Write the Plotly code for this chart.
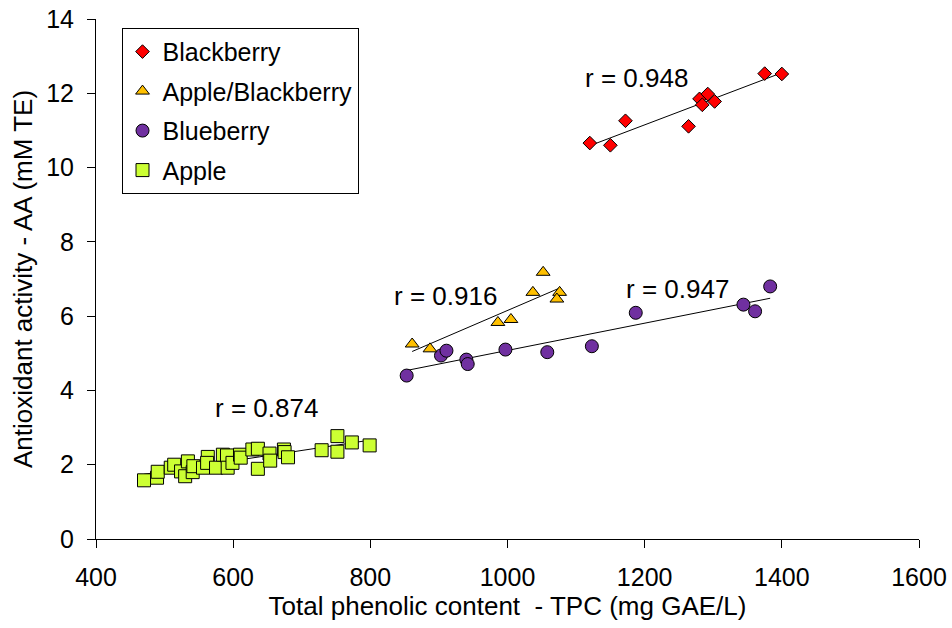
import numpy as np
import plotly.graph_objects as go

# Total phenolic content (mg GAE/L) and antioxidant activity (mM TE) per sample
blackberry_tpc = [1120, 1150, 1172, 1264, 1280, 1292, 1302, 1284, 1375, 1400]
blackberry_aa = [10.66, 10.60, 11.26, 11.11, 11.85, 11.98, 11.78, 11.69, 12.53, 12.52]

apple_blackberry_tpc = [861, 887, 986, 1005, 1037, 1052, 1076, 1072]
apple_blackberry_aa = [5.25, 5.12, 5.83, 5.91, 6.64, 7.18, 6.64, 6.46]

blueberry_tpc = [853, 903, 911, 940, 942, 997, 1058, 1123, 1187, 1344, 1361, 1383]
blueberry_aa = [4.40, 4.94, 5.07, 4.83, 4.71, 5.10, 5.03, 5.19, 6.09, 6.31, 6.13, 6.80]

apple_tpc = [470, 489, 490, 509, 514, 524, 530, 534, 541, 542, 556, 563, 562,
             575, 585, 591, 592, 599, 610, 611, 628, 636, 636, 653, 654, 674,
             675, 680, 729, 752, 752, 773, 799]
apple_aa = [1.58, 1.65, 1.81, 1.92, 2.00, 1.82, 1.69, 2.09, 1.80, 1.96, 1.92,
            2.21, 2.05, 1.92, 2.27, 2.25, 1.92, 2.05, 2.27, 2.19, 2.41, 2.43,
            1.89, 2.30, 2.11, 2.41, 2.34, 2.20, 2.39, 2.77, 2.35, 2.60, 2.52]

# Correlation labels and where they sit (data coordinates)
r_labels = ["r = 0.948", "r = 0.916", "r = 0.947", "r = 0.874"]
r_label_x = [1188, 910, 1248, 649]
r_label_y = [12.42, 6.55, 6.74, 3.54]

x_ticks = [400, 600, 800, 1000, 1200, 1400, 1600]
y_ticks = [0, 2, 4, 6, 8, 10, 12, 14]

FONT = "Liberation Sans, Arial, sans-serif"

series = [
    ("Blackberry", blackberry_tpc, blackberry_aa, "diamond", "#FF0000", 10.5),
    ("Apple/Blackberry", apple_blackberry_tpc, apple_blackberry_aa, "triangle-up", "#FFC000", 12),
    ("Blueberry", blueberry_tpc, blueberry_aa, "circle", "#7030A0", 13),
    ("Apple", apple_tpc, apple_aa, "square", "#CCFF33", 13),
]

fig = go.Figure()

# Least-squares trend line for each series
for name, xs, ys, _, _, _ in series:
    xs_a = np.array(xs, dtype=float)
    ys_a = np.array(ys, dtype=float)
    slope, intercept = np.polyfit(xs_a, ys_a, 1)
    x_line = np.array([xs_a.min(), xs_a.max()])
    fig.add_trace(go.Scatter(
        x=x_line, y=slope * x_line + intercept, mode="lines",
        line=dict(color="black", width=1), showlegend=False, hoverinfo="skip",
    ))

# Markers, drawn from the bottom of the legend upwards so Blackberry is on top
for i, (name, xs, ys, symbol, color, size) in enumerate(reversed(series)):
    fig.add_trace(go.Scatter(
        x=xs, y=ys, mode="markers", name=name,
        legendgroup=name, legendrank=len(series) - i,
        marker=dict(symbol=symbol, color=color, size=size,
                    line=dict(color="black", width=1)),
    ))

for text, tx, ty in zip(r_labels, r_label_x, r_label_y):
    fig.add_annotation(x=tx, y=ty, text=text, showarrow=False,
                       xanchor="center", yanchor="middle",
                       font=dict(family=FONT, size=26, color="black"))

fig.update_layout(
    width=952, height=628,
    margin=dict(l=96, r=33, t=19, b=89),
    paper_bgcolor="white", plot_bgcolor="white",
    font=dict(family=FONT, size=25, color="black"),
    showlegend=True,
    legend=dict(
        x=0.031, y=0.983, xanchor="left", yanchor="top",
        bgcolor="white", bordercolor="black", borderwidth=1,
        font=dict(family=FONT, size=25, color="black"),
        tracegroupgap=4, itemsizing="trace",
        traceorder="grouped",
    ),
    xaxis=dict(
        range=[400, 1600], tickvals=x_ticks, ticks="outside", ticklen=8,
        tickcolor="black", showline=True, linecolor="black", linewidth=1,
        showgrid=False, zeroline=False, automargin=False,
        ticklabelstandoff=8,
        tickfont=dict(family=FONT, size=25),
        title=dict(text="Total phenolic content  - TPC (mg GAE/L)",
                   font=dict(family=FONT, size=26), standoff=4),
    ),
    yaxis=dict(
        range=[0, 14], tickvals=y_ticks, ticks="outside", ticklen=8,
        tickcolor="black", showline=True, linecolor="black", linewidth=1,
        showgrid=False, zeroline=False, automargin=False,
        ticklabelstandoff=8,
        tickfont=dict(family=FONT, size=25),
        title=dict(text="Antioxidant activity - AA (mM TE)",
                   font=dict(family=FONT, size=26), standoff=6),
    ),
)

fig.write_html("out.html")
